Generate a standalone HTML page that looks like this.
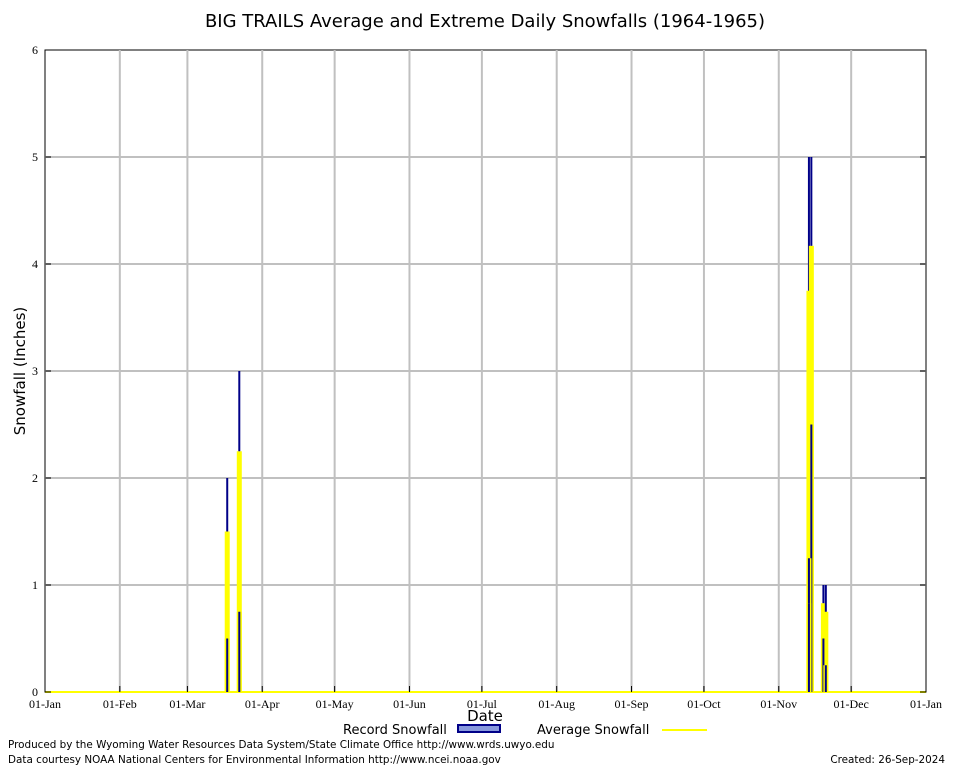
<!DOCTYPE html>
<html><head><meta charset="utf-8"><style>
body{margin:0;background:#fff;width:954px;height:768px;overflow:hidden;font-family:"DejaVu Sans","Liberation Sans",sans-serif}
svg{display:block}
</style></head><body>
<svg width="954" height="768" id="chart">
<text x="485" y="27" font-size="18" text-anchor="middle">BIG TRAILS Average and Extreme Daily Snowfalls (1964-1965)</text>
<rect x="45" y="50" width="881" height="642" fill="none" stroke="#000"/>
<g id="grid"></g>
<g id="bars"></g>
<g id="ticks"></g>
<text transform="translate(25,371) rotate(-90)" font-size="15" text-anchor="middle">Snowfall (Inches)</text>
<text x="485" y="721" font-size="15" text-anchor="middle">Date</text>
<g>
<text x="343" y="734" font-size="13">Record Snowfall</text>
<rect x="458" y="725" width="42" height="7" fill="#8899dd" stroke="#000088" stroke-width="2"/>
</g>
<g>
<text x="537" y="734" font-size="13">Average Snowfall</text>
<line x1="662" y1="730" x2="707" y2="730" stroke="#ffff00" stroke-width="2"/>
</g>
<text x="8" y="748" font-size="10.4">Produced by the Wyoming Water Resources Data System/State Climate Office http://www.wrds.uwyo.edu</text>
<text x="8" y="763" font-size="10.4">Data courtesy NOAA National Centers for Environmental Information http://www.ncei.noaa.gov</text>
<text x="945" y="763" font-size="10.4" text-anchor="end">Created:  26-Sep-2024</text>
</svg>
<script>
const dayIndex=[75,75,80,80,316,317,317,316,316,322,323,322,323];
const recordVals=[2,0.5,3,0.75,5,5,2.5,1.25,0.83,1,1,0.5,0.25];
const avgVals=[1.5,0.5,2.25,0.75,3.75,4.17,2.5,1.25,0.83,0.83,0.75,0.5,0.25];
const yTicks=[0,1,2,3,4,5,6];
const monthLabels=["01-Jan","01-Feb","01-Mar","01-Apr","01-May","01-Jun","01-Jul","01-Aug","01-Sep","01-Oct","01-Nov","01-Dec","01-Jan"];
const monthStarts=[0,31,59,90,120,151,181,212,243,273,304,334,365];
const NS="http://www.w3.org/2000/svg";
const X0=45,X1=926,Y0=692,Y1=50;
const xs=d=>X0+d*(X1-X0)/365;
const ys=v=>Y0-v*(Y0-Y1)/6;
function mk(t,a,p){const e=document.createElementNS(NS,t);for(const k in a)e.setAttribute(k,a[k]);p.appendChild(e);return e;}
const grid=document.getElementById('grid'),ticks=document.getElementById('ticks'),bars=document.getElementById('bars');
yTicks.forEach(v=>{
 if(v>0&&v<6){const l=mk('line',{x1:X0,x2:X1,y1:ys(v),y2:ys(v),stroke:'#c0c0c0','stroke-width':2},grid);
 
 }
 mk('line',{x1:X0,x2:X0+6,y1:ys(v),y2:ys(v),stroke:'#000'},ticks);
 mk('line',{x1:X1-6,x2:X1,y1:ys(v),y2:ys(v),stroke:'#000'},ticks);
 const t=mk('text',{x:X0-7,y:ys(v)+4,'font-size':12,'text-anchor':'end','font-family':'Liberation Serif, serif'},ticks);
 t.textContent=v;
 
 
});
monthStarts.forEach((d,i)=>{
 const x=xs(d);
 if(i>0&&i<12){const l=mk('line',{x1:x,x2:x,y1:Y1,y2:Y0,stroke:'#c0c0c0','stroke-width':2},grid);
 
 }
 mk('line',{x1:x,x2:x,y1:Y0,y2:Y0-6,stroke:'#000'},ticks);
 const t=mk('text',{x:x,y:708,'font-size':12,'text-anchor':'middle','font-family':'Liberation Serif, serif'},ticks);
 t.textContent=monthLabels[i];
 
 
});
mk('line',{x1:X0,x2:X1,y1:Y0,y2:Y0,stroke:'#ffff00','stroke-width':2},bars);
dayIndex.forEach((d,i)=>{
 const x=xs(d)+1.2;
 const a=mk('rect',{x:x-2.5,y:ys(avgVals[i]),width:5,height:Y0-ys(avgVals[i]),fill:'#ffff00'},bars);
 
 
 const top=ys(recordVals[i]);
 const bot=recordVals[i]>avgVals[i]?ys(avgVals[i]):Y0;
 const r=mk('rect',{x:x-1,y:top,width:2,height:bot-top,fill:'#000088'},bars);
 
 
});
</script>
</body></html>
